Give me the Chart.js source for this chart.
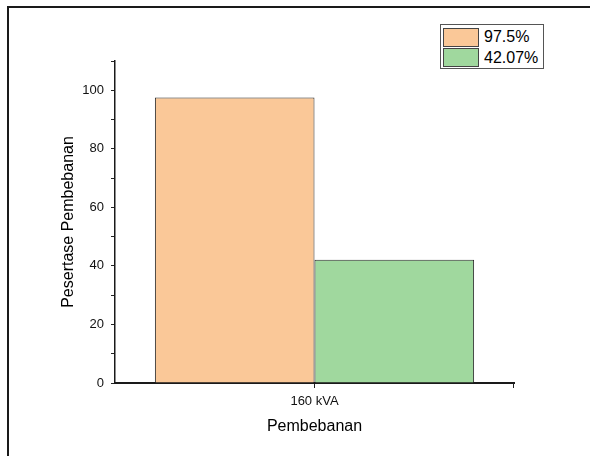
<!DOCTYPE html>
<html lang="en">
<head>
    <meta charset="UTF-8">
    <title>Pesertase Pembebanan</title>
    <script src="https://cdn.jsdelivr.net/npm/chart.js"></script>
    <style>
        body { margin: 0; background: #fff; overflow: hidden; font-family: "Liberation Sans", Arial, sans-serif; }
        #wrap { position: relative; width: 590px; height: 456px; overflow: hidden; }
        #frame { position: absolute; left: 7px; top: 6px; width: 800px; height: 800px; border: 2px solid #1a1a1a; box-sizing: border-box; pointer-events: none; }
        #legend { position: absolute; left: 440px; top: 24px; width: 104px; height: 45px; border: 1px solid #555; background: #fff; box-sizing: border-box; padding: 2px 0 0 2px; }
        .item { display: flex; align-items: center; height: 20.5px; font-size: 16px; color: #000; }
        .swatch { width: 36px; height: 19px; border: 1px solid #444; box-sizing: border-box; margin-right: 5px; }
    </style>
</head>
<body>
    <div id="wrap">
        <canvas id="chart" width="590" height="456"></canvas>
        <div id="frame"></div>
        <div id="legend"></div>
    </div>

    <script>
        // data
        const categories = ['160 kVA'];
        const seriesNames = ['97.5%', '42.07%'];
        const firstValues = [97.5];
        const secondValues = [42.07];
        const fillColors = ['rgb(250, 200, 152)', 'rgb(160, 216, 158)'];

        const font = "'Liberation Sans', Arial, sans-serif";

        // small tick at the right end of the x axis
        const endTick = {
            id: 'endTick',
            afterDraw(chart) {
                const x = chart.scales.x;
                const ctx = chart.ctx;
                ctx.save();
                ctx.strokeStyle = '#222';
                ctx.lineWidth = 1;
                ctx.beginPath();
                ctx.moveTo(x.right - 0.5, x.top);
                ctx.lineTo(x.right - 0.5, x.top + 5);
                ctx.stroke();
                ctx.restore();
            }
        };

        const chart = new Chart(document.getElementById('chart'), {
            type: 'bar',
            data: {
                labels: categories,
                datasets: [
                    { label: seriesNames[0], data: firstValues, backgroundColor: fillColors[0], borderColor: '#2a2a2a', borderWidth: 1 },
                    { label: seriesNames[1], data: secondValues, backgroundColor: fillColors[1], borderColor: '#2a2a2a', borderWidth: 1 }
                ]
            },
            options: {
                responsive: false,
                animation: false,
                categoryPercentage: 0.8,
                barPercentage: 1.0,
                layout: { padding: { left: 0, top: 61, right: 76, bottom: 0 } },
                plugins: {
                    legend: { display: false },
                    tooltip: { enabled: false }
                },
                scales: {
                    x: {
                        z: 1,
                        afterFit: (s) => { s.height = 73; },
                        grid: { display: true, drawOnChartArea: false, offset: false, tickLength: 5, color: '#222', lineWidth: 1 },
                        border: { display: true, color: '#1a1a1a', width: 2 },
                        ticks: { color: '#111', font: { family: font, size: 13 }, padding: 6 },
                        title: { display: true, text: 'Pembebanan', color: '#000', font: { family: font, size: 16 }, padding: { top: 4, bottom: 20 } }
                    },
                    y: {
                        min: 0,
                        max: 110,
                        afterFit: (s) => { s.width = 115; },
                        grid: { display: true, drawOnChartArea: false, tickLength: 4, color: '#222', lineWidth: 1 },
                        border: { display: true, color: '#1a1a1a', width: 1.5 },
                        ticks: {
                            stepSize: 10,
                            color: '#111',
                            font: { family: font, size: 13 },
                            padding: 7,
                            callback: (v) => (v % 20 === 0 ? v : '')
                        },
                        title: { display: true, text: 'Pesertase Pembebanan', color: '#000', font: { family: font, size: 16 }, padding: { top: 59, bottom: 0 } }
                    }
                }
            },
            plugins: [endTick]
        });

        // html legend with a box round it
        const legend = document.getElementById('legend');
        chart.data.datasets.forEach(function (ds) {
            const row = document.createElement('div');
            row.className = 'item';
            const sw = document.createElement('span');
            sw.className = 'swatch';
            sw.style.background = ds.backgroundColor;
            const txt = document.createElement('span');
            txt.textContent = ds.label;
            row.appendChild(sw);
            row.appendChild(txt);
            legend.appendChild(row);
        });
    </script>
</body>
</html>
